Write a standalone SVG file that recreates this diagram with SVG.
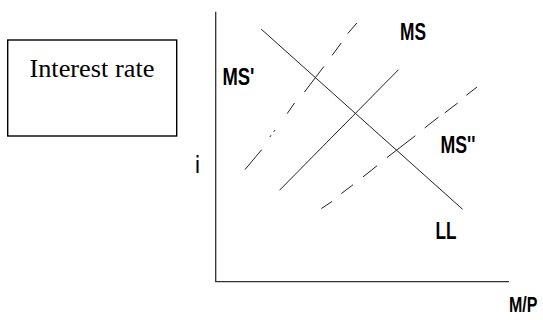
<svg xmlns="http://www.w3.org/2000/svg" width="543" height="320" viewBox="0 0 543 320">
  <style>
    .axis { stroke: #333; stroke-width: 1.3; fill: none; }
    .curve { stroke: #222; stroke-width: 1; fill: none; stroke-linecap: round; }
    .lbl { font-family: "Liberation Sans", Arial, sans-serif; font-weight: bold; font-size: 23.5px; fill: #000; }
    .box { fill: #fff; stroke: #000; stroke-width: 1.4; }
    .boxtxt { font-family: "Liberation Serif", "Times New Roman", serif; font-size: 26px; fill: #000; }
  </style>
  <rect width="543" height="320" fill="#fff"/>

  <g id="interest-rate-box">
    <rect class="box" x="7.7" y="40" width="169" height="96"/>
    <text class="boxtxt" x="29.4" y="77" textLength="125" lengthAdjust="spacingAndGlyphs">Interest rate</text>
  </g>

  <g id="axes">
    <path class="axis" d="M215.7 11.7 V281.7 H509"/>
    <text class="lbl" x="195.4" y="172.7" textLength="4" lengthAdjust="spacingAndGlyphs">i</text>
    <text class="lbl" x="537.5" y="312" text-anchor="end" textLength="28.5" lengthAdjust="spacingAndGlyphs" style="font-size:21.5px">M/P</text>
  </g>

  <g id="connectors">
    <g id="LL">
      <path class="curve" d="M261.4 29.3 L462.3 209"/>
      <text class="lbl" x="435.6" y="239.3" textLength="21" lengthAdjust="spacingAndGlyphs">LL</text>
    </g>
    <g id="MS">
      <path class="curve" d="M279.8 190 L398.2 70"/>
      <text class="lbl" x="400" y="40" textLength="26" lengthAdjust="spacingAndGlyphs">MS</text>
    </g>
    <g id="MS-prime">
      <path class="curve" d="M245.2 169.3 L261.4 150 M270 136.7 L270.8 135.6 M274 131.5 L274.8 130.4 M287.4 113.3 L294.3 103.3 M304.7 91.7 L323.7 66.7 M332.4 55 L341 43.3 M348 33.3 L356.6 23.3"/>
      <text class="lbl" x="222.5" y="85" textLength="32" lengthAdjust="spacingAndGlyphs">MS'</text>
    </g>
    <g id="MS-double-prime">
      <path class="curve" d="M321.7 208.3 L331.7 201.7 M341.7 193.3 L352.7 185 M363.3 176.7 L376.7 166 M387.3 157.3 L415 136 M425 127.7 L438.3 117.3 M445 112.7 L457.3 103.3 M466.7 95 L476.7 87.3"/>
      <text class="lbl" x="440.5" y="152.7" textLength="35" lengthAdjust="spacingAndGlyphs">MS''</text>
    </g>
  </g>
</svg>
